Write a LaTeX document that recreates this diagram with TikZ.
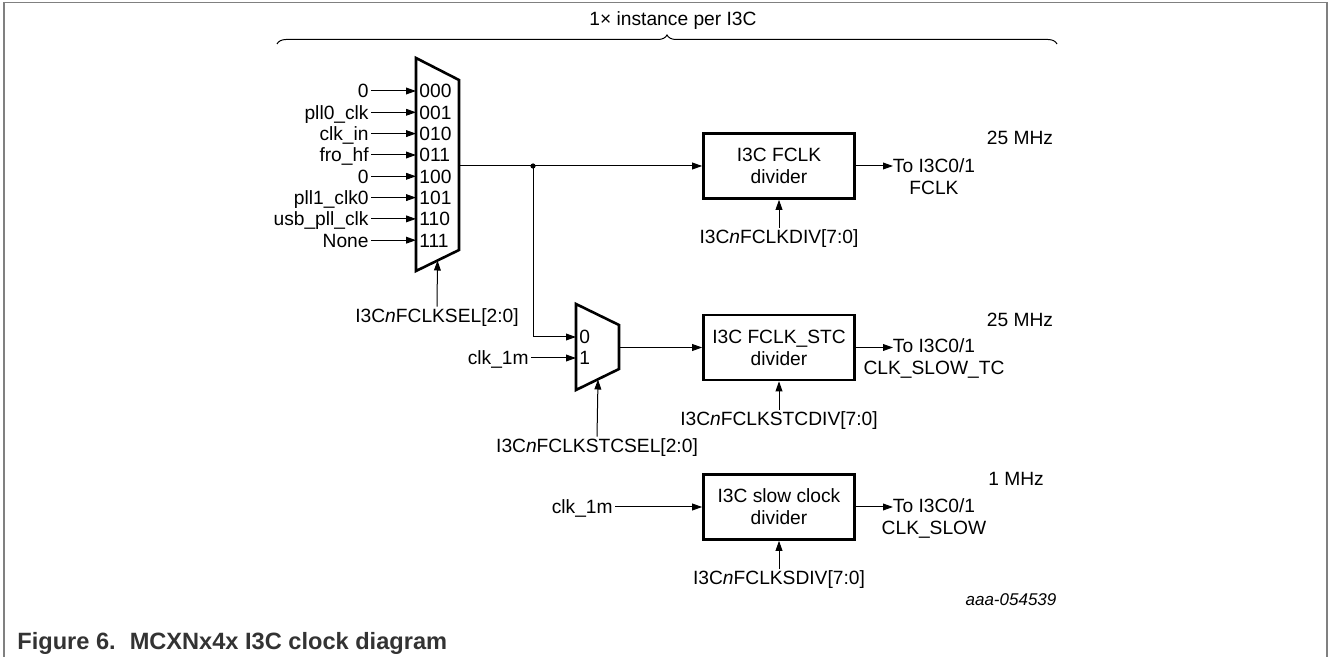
\documentclass[tikz,border=0pt]{standalone}
\usepackage{fontspec}
\setmainfont{Liberation Sans}
\usetikzlibrary{arrows.meta, positioning, decorations.pathreplacing}

\begin{document}
\begin{tikzpicture}[
          x=0.5pt, y=-0.5pt,
          font=\fontsize{9.6}{11}\selectfont,
          every node/.style={inner sep=1pt},
          divbox/.style={draw, line width=1.3pt, minimum width=75.5pt, minimum height=32.5pt, align=center, inner sep=2pt},
          mux/.style={draw, line width=1.3pt, line join=miter},
          % Mux port labels and source names
          code/.style={anchor=west, inner xsep=1.5pt, inner ysep=0pt, text height=7pt, text depth=0pt},
          src/.style={anchor=east, inner ysep=0pt, text height=7pt, text depth=0pt},
          outlabel/.style={align=center, inner sep=0pt},
          arrow/.style={-{Triangle[length=5pt, width=3.4pt]}, line width=0.5pt},
          wire/.style={line width=0.5pt}
        ]
        \useasboundingbox (0,0) rectangle (1328,657);

        % -------- Frame and caption --------
        \draw[gray, line width=0.6pt] (4,657) -- (4,2.5) -- (1327,2.5) -- (1327,657);
        \node[anchor=west, font=\fontsize{11.8}{13}\selectfont\bfseries, text=black!80] (caption) at (15,643)
          {Figure 6.\hspace{7pt}MCXNx4x I3C clock diagram};

        % -------- Instance brace --------
        \draw[decorate, decoration={brace, amplitude=4.5pt}, line width=0.5pt] (277,44) -- (1057,44);
        \node (inst) at (673,21) {1× instance per I3C};

        % -------- FCLK source mux --------
        \draw[mux] (416,58) -- (459,80) -- (459,250) -- (416,271) -- cycle;
        \coordinate (m1out) at (459,166);
        \coordinate (m1sel) at (437.5,260.5);

        \node[code] (c000) at (416,91)    {000};
        \node[code] (c001) at (416,112.3) {001};
        \node[code] (c010) at (416,133.6) {010};
        \node[code] (c011) at (416,155)   {011};
        \node[code] (c100) at (416,176.3) {100};
        \node[code] (c101) at (416,197.6) {101};
        \node[code] (c110) at (416,218.9) {110};
        \node[code] (c111) at (416,240.2) {111};

        \node[src] (zeroA)  at (371,91)    {0};
        \node[src] (pll0)   at (371,112.3) {pll0\_clk};
        \node[src] (clkin)  at (371,133.6) {clk\_in};
        \node[src] (frohf)  at (371,155)   {fro\_hf};
        \node[src] (zeroB)  at (371,176.3) {0};
        \node[src] (pll1)   at (371,197.6) {pll1\_clk0};
        \node[src] (usbpll) at (371,218.9) {usb\_pll\_clk};
        \node[src] (none)   at (371,240.2) {None};

        \draw[arrow] (zeroA.east)  -- (c000.west);
        \draw[arrow] (pll0.east)   -- (c001.west);
        \draw[arrow] (clkin.east)  -- (c010.west);
        \draw[arrow] (frohf.east)  -- (c011.west);
        \draw[arrow] (zeroB.east)  -- (c100.west);
        \draw[arrow] (pll1.east)   -- (c101.west);
        \draw[arrow] (usbpll.east) -- (c110.west);
        \draw[arrow] (none.east)   -- (c111.west);

        \node (selA) at (437,318) {I3C\textit{n}FCLKSEL[2:0]};
        \draw[arrow] (selA.north) -- (m1sel);

        % -------- FCLK divider --------
        \node[divbox] (fclk) at (779,166) {I3C FCLK\\divider};
        \coordinate (junc) at (533,166);
        \draw[wire] (m1out) -- (junc);
        \draw[arrow] (junc) -- (fclk.west);
        \fill (junc) circle (1.3pt);

        \node (divA) at (779,239) {I3C\textit{n}FCLKDIV[7:0]};
        \draw[arrow] (divA.north) -- (fclk.south);

        \coordinate (outA) at (893,166);
        \draw[arrow] (fclk.east) -- (outA);
        \node[outlabel] (toA) at (934,177) {To I3C0/1\\FCLK};
        \node (freqA) at (1020,138) {25 MHz};

        % -------- FCLK_STC mux --------
        \draw[mux] (576,304) -- (619,325) -- (619,369) -- (576,390) -- cycle;
        \coordinate (m2out) at (619,347.5);
        \coordinate (m2sel) at (598,379.5);

        \node[code] (s0) at (576,337) {0};
        \node[code] (s1) at (576,358) {1};
        \node[src] (clkA) at (531,358) {clk\_1m};

        \draw[arrow] (junc) |- (s0.west);
        \draw[arrow] (clkA.east) -- (s1.west);

        \node (selB) at (597,448) {I3C\textit{n}FCLKSTCSEL[2:0]};
        \draw[arrow] (selB.north) -- (m2sel);

        % -------- FCLK_STC divider --------
        \node[divbox] (stc) at (779,347.5) {I3C FCLK\_STC\\divider};
        \draw[arrow] (m2out) -- (stc.west);

        \node (divB) at (779,421) {I3C\textit{n}FCLKSTCDIV[7:0]};
        \draw[arrow] (divB.north) -- (stc.south);

        \coordinate (outB) at (893,347.5);
        \draw[arrow] (stc.east) -- (outB);
        \node[outlabel] (toB) at (934,358.5) {To I3C0/1\\CLK\_SLOW\_TC};
        \node (freqB) at (1020,320) {25 MHz};

        % -------- Slow clock divider --------
        \node[divbox] (slow) at (779,507) {I3C slow clock\\divider};
        \node[src] (clkB) at (615,507) {clk\_1m};
        \draw[arrow] (clkB.east) -- (slow.west);

        \node (divC) at (779,580) {I3C\textit{n}FCLKSDIV[7:0]};
        \draw[arrow] (divC.north) -- (slow.south);

        \coordinate (outC) at (893,507);
        \draw[arrow] (slow.east) -- (outC);
        \node[outlabel] (toC) at (934,518) {To I3C0/1\\CLK\_SLOW};
        \node (freqC) at (1016,479) {1 MHz};

        \node[font=\fontsize{8.5}{10}\selectfont\itshape] (docid) at (1011,600) {aaa-054539};

      \end{tikzpicture}
\end{document}
